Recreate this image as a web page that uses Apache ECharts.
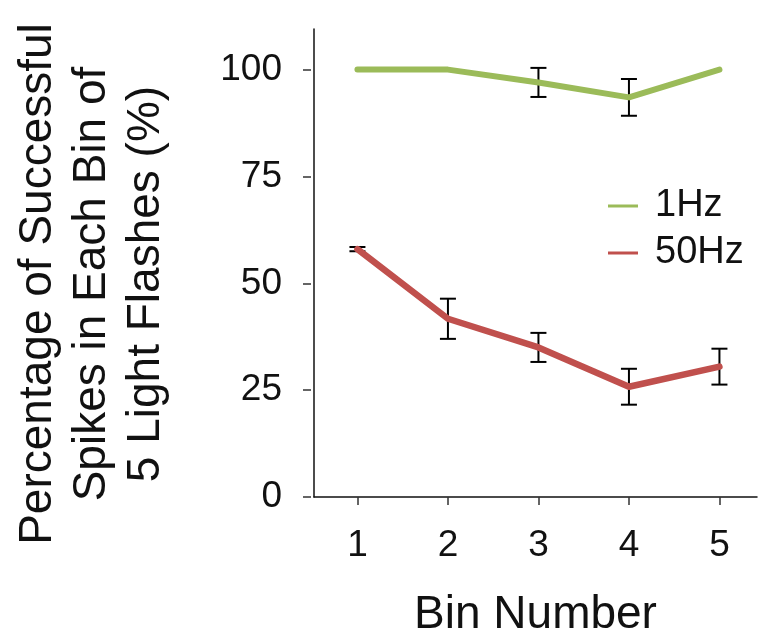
<!DOCTYPE html>
<html>
<head>
<meta charset="utf-8">
<script src="https://cdn.jsdelivr.net/npm/echarts@6/dist/echarts.min.js"></script>
<style>
html,body{margin:0;padding:0;background:#fff;}
#chart{width:758px;height:643px;}
</style>
</head>
<body>
<div id="chart"></div>
<script>
// ---- data ----
var bins = [1, 2, 3, 4, 5];
var hz1Mean = [100, 100, 97, 93.5, 100];
var hz1Err = [0, 0, 3.4, 4.3, 0];
var hz50Mean = [58, 41.7, 35, 25.8, 30.5];
var hz50Err = [0.5, 4.7, 3.4, 4.2, 4.2];
var yTicks = [0, 25, 50, 75, 100];
var seriesNames = ['1Hz', '50Hz'];
var xTitle = 'Bin Number';
var yTitle = ['Percentage of Successful', 'Spikes in Each Bin of', '5 Light Flashes (%)'];

var FONT = '"Liberation Sans", Arial, sans-serif';
var GREEN = '#9BBB59';
var RED = '#C0504D';

function pairs(xs, ys) { return xs.map(function (x, i) { return [x, ys[i]]; }); }
function errData(xs, ys, es) {
  var out = [];
  xs.forEach(function (x, i) { if (es[i] > 0) out.push([x, ys[i] - es[i], ys[i] + es[i]]); });
  return out;
}
function errRender(params, api) {
  var x = api.value(0);
  var lo = api.coord([x, api.value(1)]);
  var hi = api.coord([x, api.value(2)]);
  var hw = 8;
  var st = { stroke: '#000', lineWidth: 2 };
  return {
    type: 'group',
    children: [
      { type: 'line', shape: { x1: lo[0], y1: lo[1], x2: hi[0], y2: hi[1] }, style: st },
      { type: 'line', shape: { x1: lo[0] - hw, y1: lo[1], x2: lo[0] + hw, y2: lo[1] }, style: st },
      { type: 'line', shape: { x1: hi[0] - hw, y1: hi[1], x2: hi[0] + hw, y2: hi[1] }, style: st }
    ]
  };
}

var chart = echarts.init(document.getElementById('chart'), null, { renderer: 'canvas' });
var xMin = 0.52, xMax = 5.415, yMin = 0, yMax = 109.5;
var option = {
  animation: false,
  backgroundColor: '#fff',
  grid: { left: 314, top: 29, width: 443, height: 473 },
  xAxis: [
    { type: 'value', min: xMin, max: xMax, position: 'bottom',
      axisLine: { show: true, lineStyle: { color: '#111', width: 1.5 } },
      axisTick: { show: false }, axisLabel: { show: false }, splitLine: { show: false },
      name: xTitle, nameLocation: 'middle', nameGap: 95,
      nameTextStyle: { fontFamily: FONT, fontSize: 46, color: '#111' } },
    { type: 'value', min: xMin, max: xMax, position: 'bottom', offset: 3,
      axisLine: { show: false },
      axisTick: { show: true, length: 8, customValues: bins, lineStyle: { color: '#333', width: 1.5 } },
      axisLabel: { show: true, customValues: bins, margin: 27, fontFamily: FONT, fontSize: 37, color: '#111' },
      splitLine: { show: false } }
  ],
  yAxis: [
    { type: 'value', min: yMin, max: yMax, position: 'left',
      axisLine: { show: true, lineStyle: { color: '#111', width: 1.5 } },
      axisTick: { show: false }, axisLabel: { show: false }, splitLine: { show: false } },
    { type: 'value', min: yMin, max: yMax, position: 'left', offset: 3,
      axisLine: { show: false },
      axisTick: { show: true, length: 8, customValues: yTicks, lineStyle: { color: '#333', width: 1.5 } },
      axisLabel: { show: true, customValues: yTicks, margin: 29, fontFamily: FONT, fontSize: 37, color: '#111' },
      splitLine: { show: false } }
  ],
  legend: {
    orient: 'vertical', left: 603, top: 181,
    icon: 'rect', itemWidth: 30, itemHeight: 3, itemGap: 7,
    textStyle: { fontFamily: FONT, fontSize: 38, color: '#111', lineHeight: 40, padding: [0, 0, 0, 12] },
    data: seriesNames
  },
  graphic: [
    { type: 'text', x: 92, y: 284, rotation: Math.PI / 2,
      style: { text: yTitle.join('\n'), textAlign: 'center', textVerticalAlign: 'middle',
               font: '46px ' + FONT, lineHeight: 54, fill: '#111' } }
  ],
  series: [
    { type: 'custom', name: 'err1', renderItem: errRender, data: errData(bins, hz1Mean, hz1Err), z: 1, silent: true },
    { type: 'custom', name: 'err50', renderItem: errRender, data: errData(bins, hz50Mean, hz50Err), z: 1, silent: true },
    { type: 'line', name: seriesNames[0], data: pairs(bins, hz1Mean), showSymbol: false, z: 3,
      color: GREEN, lineStyle: { color: GREEN, width: 6, cap: 'round', join: 'round' } },
    { type: 'line', name: seriesNames[1], data: pairs(bins, hz50Mean), showSymbol: false, z: 3,
      color: RED, lineStyle: { color: RED, width: 6.5, cap: 'round', join: 'round' } }
  ]
};
chart.setOption(option);
</script>
</body>
</html>
